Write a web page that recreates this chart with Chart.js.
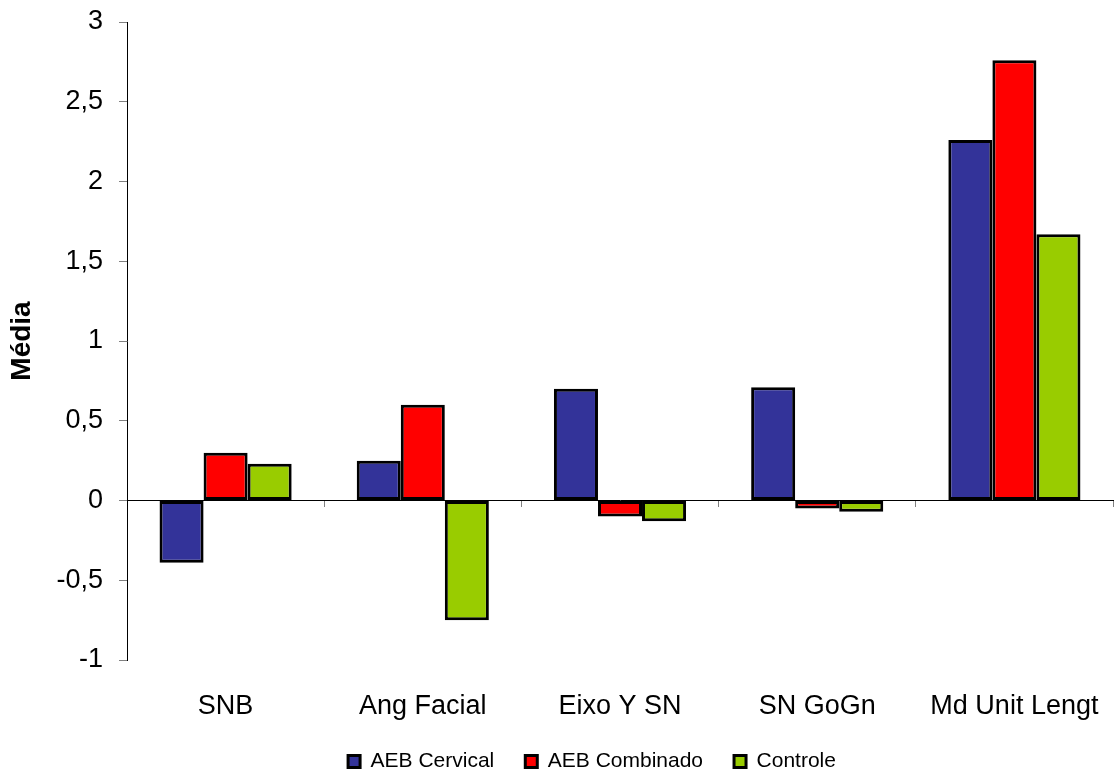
<!DOCTYPE html>
<html lang="pt">
<head>
    <meta charset="UTF-8">
    <title>Média por medida</title>
    <script src="https://cdn.jsdelivr.net/npm/chart.js"></script>
    <style>
        html, body { margin: 0; padding: 0; background: #fff; }
        #wrap { width: 1115px; height: 774px; }
    </style>
</head>
<body>
<div id="wrap"><canvas id="mediaChart"></canvas></div>
<script>
// categories and group means
const medidas = ['SNB', 'Ang Facial', 'Eixo Y SN', 'SN GoGn', 'Md Unit Lengt'];
const aebCervical = [-0.39, 0.25, 0.70, 0.71, 2.26];
const aebCombinado = [0.30, 0.60, -0.10, -0.05, 2.76];
const controle = [0.23, -0.75, -0.13, -0.07, 1.67];

const fontFamily = '"Liberation Sans", Arial, sans-serif';

function serie(label, data, color) {
    return {
        label: label,
        data: data,
        backgroundColor: color,
        borderColor: '#000',
        borderWidth: 3,
        borderSkipped: false,
        barPercentage: 1,
        categoryPercentage: 0.67
    };
}

// no side padding for the category axes, the plot runs to the edge
function noSidePadding(s) {
    s.paddingLeft = 0;
    s.paddingRight = 0;
}

// nudge the legend row a little to the left of the plot centre
const legendShift = {
    id: 'legendShift',
    afterLayout(chart) {
        chart.legend.left -= 28;
        chart.legend.right -= 28;
    }
};

new Chart(document.getElementById('mediaChart'), {
    type: 'bar',
    data: {
        labels: medidas,
        datasets: [
            serie('AEB Cervical', aebCervical, '#333399'),
            serie('AEB Combinado', aebCombinado, '#ff0000'),
            serie('Controle', controle, '#99cc00')
        ]
    },
    plugins: [legendShift],
    options: {
        responsive: true,
        maintainAspectRatio: false,
        animation: false,
        layout: { padding: { top: 22, right: 2, left: 0, bottom: -8 } },
        plugins: {
            tooltip: { enabled: false },
            legend: {
                position: 'bottom',
                fullSize: false,
                labels: {
                    font: { family: fontFamily, size: 21 },
                    color: '#000',
                    boxWidth: 12,
                    boxHeight: 12,
                    padding: 31
                }
            }
        },
        scales: {
            x: {
                grid: { display: false },
                border: { display: false },
                ticks: {
                    color: '#000',
                    font: { family: fontFamily, size: 27 },
                    padding: 22
                },
                afterFit: s => {
                    s.height = 60;
                    noSidePadding(s);
                }
            },
            // zero line with category separator ticks
            x2: {
                type: 'category',
                labels: medidas,
                position: { y: 0 },
                offset: true,
                grid: {
                    drawOnChartArea: false,
                    offset: true,
                    tickLength: 6,
                    color: '#808080'
                },
                border: { color: '#000', width: 1 },
                ticks: { display: false },
                afterFit: noSidePadding
            },
            y: {
                min: -1,
                max: 3,
                grid: {
                    drawOnChartArea: false,
                    tickLength: 8,
                    color: '#808080'
                },
                border: { color: '#000', width: 1 },
                ticks: {
                    stepSize: 0.5,
                    color: '#000',
                    padding: 16,
                    font: { family: fontFamily, size: 27 },
                    callback: v => String(v).replace('.', ',')
                },
                title: {
                    display: true,
                    text: 'Média',
                    color: '#000',
                    font: { family: fontFamily, size: 28, weight: 'bold' },
                    padding: { top: 5, bottom: 10 }
                },
                afterFit: s => {
                    s.width = 127;
                    s.paddingTop = 0;
                    s.paddingBottom = 0;
                }
            }
        }
    }
});
</script>
</body>
</html>
